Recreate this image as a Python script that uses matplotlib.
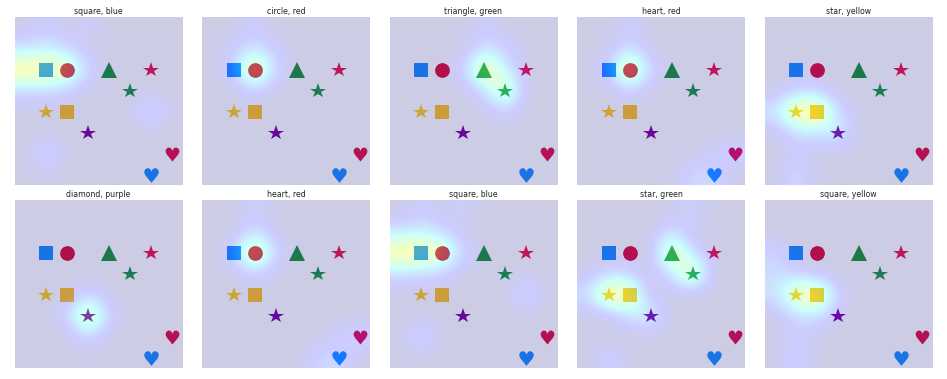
import numpy as np
import matplotlib
matplotlib.use('Agg')
import matplotlib.pyplot as plt
from matplotlib.colors import ListedColormap

titles = ['square, blue', 'circle, red', 'triangle, green', 'heart, red', 'star, yellow',
          'diamond, purple', 'heart, red', 'square, blue', 'star, green', 'square, yellow']

# objects in the scene, on an 8x8 grid
obj_col = [1, 2, 4, 6, 5, 1, 2, 3, 7, 6]
obj_row = [2, 2, 2, 2, 3, 4, 4, 5, 6, 7]
obj_marker = ['s', 'o', '^', '*', '*', '*', 's', '*', '$\u2665$', '$\u2665$']
obj_color = ['#1e90ff', '#dc143c', '#23963a', '#eb1e50', '#239a46', '#ffcd1e', '#ffc328',
             '#840ca0', '#e4144a', '#1e90ff']
obj_size = [9.7, 10.6, 11, 11.5, 11.5, 11.5, 10, 11.5, 10, 10.5]

# attention maps: hot cells (row, col, value), everything else is 0
hot_cells = [
    [(2, 0, 0.8), (2, 1, 0.8), (2, 2, 0.7), (1, 0, 0.25), (1, 1, 0.3), (1, 2, 0.2), (3, 0, 0.2),
     (3, 1, 0.2), (2, 3, 0.2), (3, 2, 0.12), (0, 1, 0.12), (0, 3, 0.12), (4, 6, 0.33), (6, 1, 0.3)],
    [(2, 2, 0.88), (1, 2, 0.25), (0, 2, 0.12), (2, 1, 0.18), (2, 3, 0.2), (3, 2, 0.15), (1, 1, 0.1),
     (1, 3, 0.1)],
    [(2, 4, 0.86), (3, 5, 0.75), (1, 4, 0.25), (2, 5, 0.3), (3, 4, 0.2), (0, 4, 0.12), (1, 5, 0.15),
     (4, 5, 0.15), (2, 3, 0.15)],
    [(2, 2, 0.88), (1, 2, 0.25), (0, 2, 0.12), (2, 1, 0.18), (2, 3, 0.2), (3, 2, 0.15), (7, 5, 0.2),
     (7, 6, 0.22), (6, 7, 0.18), (6, 6, 0.1)],
    [(4, 1, 0.86), (4, 2, 0.86), (5, 1, 0.2), (5, 2, 0.25), (5, 3, 0.35), (3, 1, 0.15), (3, 2, 0.15),
     (4, 0, 0.3), (4, 3, 0.2), (7, 1, 0.25), (6, 1, 0.1)],
    [(5, 3, 0.84), (4, 3, 0.18), (6, 3, 0.2), (5, 2, 0.18), (5, 4, 0.15)],
    [(2, 2, 0.88), (1, 2, 0.25), (0, 2, 0.12), (2, 1, 0.18), (2, 3, 0.2), (3, 2, 0.15), (7, 6, 0.22),
     (6, 7, 0.2), (7, 5, 0.18), (6, 6, 0.1)],
    [(2, 0, 0.8), (2, 1, 0.8), (2, 2, 0.7), (1, 0, 0.25), (1, 1, 0.3), (1, 2, 0.2), (3, 0, 0.2),
     (3, 1, 0.2), (2, 3, 0.2), (3, 2, 0.12), (0, 1, 0.12), (0, 3, 0.12), (4, 6, 0.33), (6, 1, 0.3)],
    [(2, 4, 0.82), (3, 5, 0.8), (4, 1, 0.86), (4, 2, 0.8), (5, 3, 0.4), (1, 4, 0.25), (4, 0, 0.25),
     (3, 1, 0.2), (3, 4, 0.25), (0, 5, 0.15), (7, 1, 0.2), (5, 2, 0.25), (2, 5, 0.2), (3, 2, 0.15)],
    [(4, 1, 0.75), (4, 2, 0.86), (5, 2, 0.25), (5, 1, 0.2), (4, 0, 0.25), (3, 0, 0.2), (2, 0, 0.18),
     (3, 1, 0.15), (7, 1, 0.2), (6, 1, 0.15), (4, 3, 0.15)],
]

# jet overlay, more opaque where attention is high
jet = plt.get_cmap('jet')(np.linspace(0, 1, 256))
jet[:, 3] = 0.2 + 0.32 * np.linspace(0, 1, 256) ** 3
overlay = ListedColormap(jet)

W, H = 947, 379
fig = plt.figure(figsize=(W / 100, H / 100), dpi=100)
lefts = [14, 201.5, 389, 576.5, 764]
tops = [17, 200]

for i, title in enumerate(titles):
    r, c = divmod(i, 5)
    ax = fig.add_axes([lefts[c] / W, 1 - (tops[r] + 168) / H, 169 / W, 168 / H])
    ax.set_facecolor('white')
    for k in range(len(obj_col)):
        ax.plot(obj_col[k], obj_row[k], marker=obj_marker[k], color=obj_color[k],
                markersize=obj_size[k], markeredgewidth=0, linestyle='none')
    grid = np.zeros((8, 8))
    for (rr, cc, v) in hot_cells[i]:
        grid[rr, cc] = v
    ax.imshow(grid, cmap=overlay, vmin=0, vmax=1, interpolation='bicubic',
              interpolation_stage='data', extent=(-0.5, 7.5, 7.5, -0.5), zorder=3)
    ax.set_xlim(-0.5, 7.5)
    ax.set_ylim(7.5, -0.5)
    ax.axis('off')
    ax.set_title(title, fontsize=5.6, pad=2.5, color='#222222')

fig.savefig('out.png', dpi=100)
